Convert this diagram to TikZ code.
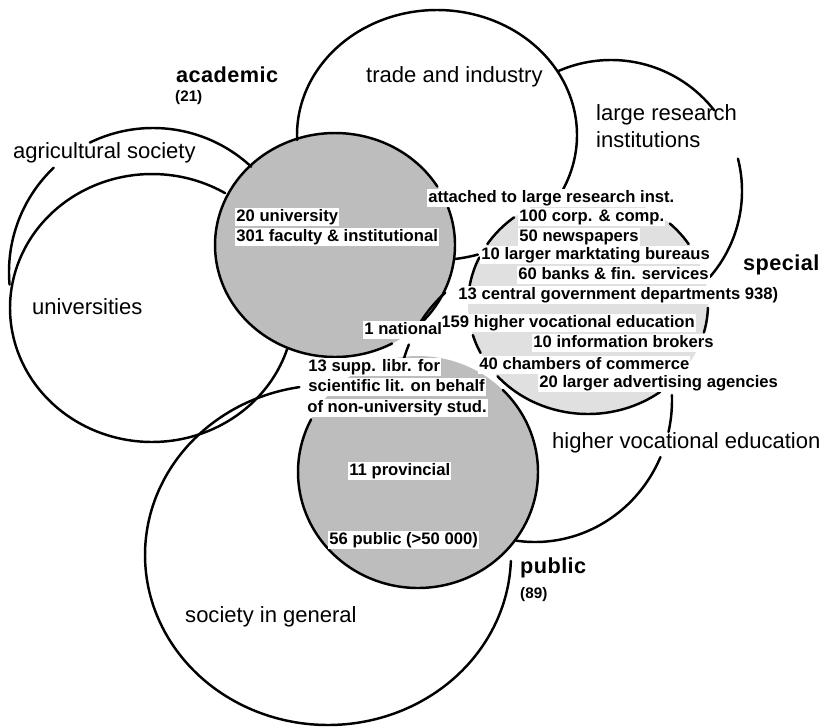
\documentclass[tikz,border=0pt]{standalone}
\usepackage{fontspec}
\setmainfont{Liberation Sans}
\newfontfamily\catfont{Liberation Sans}[LetterSpace=2]
\newcommand\earc[6]{\draw[ln] plot[domain=#5:#6,samples=90,smooth] ({#1+#3*cos(\x)},{#2+#4*sin(\x)});}
\begin{document}
\begin{tikzpicture}[x=0.03cm,y=-0.03cm,
  ln/.style={line width=2.1pt,line cap=round,line join=round},
  acfill/.style={fill=black!26},
  spfill/.style={fill=black!12},
  pufill/.style={fill=black!26},
  inner/.style={font=\fontsize{14.2}{16}\selectfont\bfseries,anchor=west,inner sep=1pt,text height=10pt,text depth=3pt,fill=white},
  outer/.style={font=\fontsize{18.8}{20}\selectfont,anchor=west,inner sep=0pt},
  cat/.style={font=\catfont\fontsize{18.5}{20}\selectfont\bfseries,anchor=west,inner sep=0pt},
  small/.style={font=\fontsize{13}{15}\selectfont\bfseries,anchor=west,inner sep=0pt}]
\fill[white] (0,0) rectangle (823,727);
\useasboundingbox (0,0) rectangle (823,727);
% shaded library circles
\fill[acfill] plot[domain=0:360,samples=120] ({335+120*cos(\x)},{245+112*sin(\x)}) -- cycle;
\fill[spfill] plot[domain=0:360,samples=120] ({588+120*cos(\x)},{304+110*sin(\x)}) -- cycle;
\fill[pufill] plot[domain=0:360,samples=120] ({418+120*cos(\x)},{472+116*sin(\x)}) -- cycle;
% agricultural society
\earc{153}{272}{144}{144}{-116}{-47}
\earc{153}{272}{144}{144}{175}{226.4}
% universities
\earc{152}{308}{142}{134}{-342.6}{-59}
% trade and industry
\earc{437}{135}{140}{125}{177.7}{385.7}
\earc{437}{135}{140}{125}{73}{83}
% large research institutions
\earc{611}{191}{131}{131}{-113.5}{-38}
\earc{611}{191}{131}{131}{-14.3}{41}
% special
\earc{588}{304}{120}{110}{-147}{-128}
\earc{588}{304}{120}{110}{-47}{-33}
\earc{588}{304}{120}{110}{188.4}{205}
\earc{588}{304}{120}{110}{2}{15}
\earc{588}{304}{120}{110}{153.6}{163.6}
\earc{588}{304}{120}{110}{53}{139}
% academic
\earc{335}{245}{120}{112}{-19.5}{44.5}
\earc{335}{245}{120}{112}{61.6}{328.6}
% public
\earc{418}{472}{120}{116}{-45}{207}
% society in general
\earc{328}{555}{183}{170}{-358}{-99}
% higher vocational education
\earc{535}{400}{137}{142}{-2}{13}
\earc{535}{400}{137}{142}{23.7}{98}
\earc{535}{400}{137}{142}{197}{203}
\earc{535}{400}{137}{142}{213}{229}
% outer labels
\node[outer] (agri) at (13,153) {agricultural society};
\node[outer] (univ) at (32,307) {universities};
\node[outer] (trade) at (366,77) {trade and industry};
\node[outer] (lra) at (596,115) {large research};
\node[outer] (lrb) at (596,140) {institutions};
\node[outer] (hve) at (552,443) {higher vocational education};
\node[outer] (soc) at (185,617) {society in general};
\node[cat] (acad) at (176,75) {academic};
\node[small] (n21) at (175,98) {(21)};
\node[cat] (spec) at (743,265) {special};
\node[cat] (publ) at (520,568) {public};
\node[small] (n89) at (520,595) {(89)};
% inner texts
\node[inner] (i1) at (235,217) {20 university};
\node[inner] (i2) at (235,237) {301 faculty \& institutional};
\node[inner] (i3) at (427,198) {attached to large research inst.};
\node[inner] (i4) at (518,217) {100 corp. \& comp.};
\node[inner] (i5) at (518,237) {50 newspapers};
\node[inner] (i6) at (480,255) {10 larger marktating bureaus};
\node[inner] (i7) at (517,275) {60 banks \& fin. services};
\node[inner] (i8) at (457,295) {13 central government departments 938)};
\node[inner] (i9) at (440,323) {159 higher vocational education};
\node[inner] (i10) at (532,343) {10 information brokers};
\node[inner] (i11) at (478,365) {40 chambers of commerce};
\node[inner] (i12) at (538,383) {20 larger advertising agencies};
\node[inner] (i13) at (363,330) {1 national};
\node[inner] (i14) at (307,367) {13 supp. libr. for};
\node[inner] (i15) at (307,387) {scientific lit. on behalf};
\node[inner] (i16) at (306,408) {of non-university stud.};
\node[inner] (i17) at (348,471) {11 provincial};
\node[inner] (i18) at (328,540) {56 public (>50 000)};
\end{tikzpicture}
\end{document}
